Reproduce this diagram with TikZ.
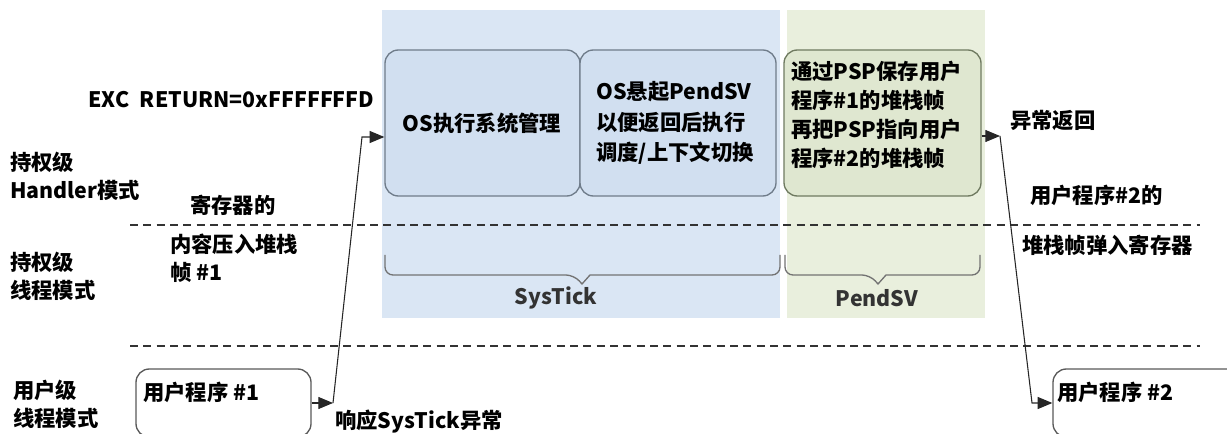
\documentclass[tikz,border=0pt]{standalone}
\usepackage{fontspec}
\setmainfont{Noto Sans CJK SC}
\usetikzlibrary{arrows.meta,fit}
\definecolor{bluebg}{HTML}{DAE6F4}
\definecolor{bluebox}{HTML}{D1DFF0}
\definecolor{greenbg}{HTML}{E9EFDD}
\definecolor{greenbox}{HTML}{DFE7D0}
\definecolor{boxline}{HTML}{6F7C8A}
\definecolor{greenline}{HTML}{6F7A60}
\begin{document}
\begin{tikzpicture}[x=0.75pt,y=-0.75pt,
  every node/.style={font=\fontsize{16}{21}\selectfont\bfseries, inner sep=0pt},
  stagebox/.style={draw=boxline, line width=1pt, rounded corners=10pt, fill=bluebox},
  pspbox/.style={draw=greenline, line width=1pt, rounded corners=10pt, fill=greenbox},
  userbox/.style={draw=black!65, line width=1pt, rounded corners=10pt, fill=white},
  sep/.style={dashed, dash pattern=on 6pt off 4pt, line width=0.8pt, black!80},
  arr/.style={-{Triangle[length=11pt,width=9pt]}, line width=0.8pt, black!85},
  bracestyle/.style={draw=black!55, line width=1pt, rounded corners=6pt}]
\useasboundingbox (0,0) rectangle (1227,434);
\clip (0,0) rectangle (1227,434);
% backgrounds
\fill[bluebg] (382,10) rectangle (780,318);
\fill[greenbg] (787,10) rectangle (985,318);
% dashed separators
\draw[sep] (130,225) -- (1200,225);
\draw[sep] (130,346) -- (1200,346);
% boxes
\node[stagebox, fit={(385,50) (580,196)}] (os1) {};
\node[stagebox, fit={(580,50) (776,196)}] (os2) {};
\node[pspbox, fit={(784,50) (981,196)}] (psp) {};
\node[userbox, fit={(136,369) (311,437)}] (user1) {};
\node[userbox, fit={(1053,369) (1240,437)}] (user2) {};
% box texts
\node (os1t) at (482,123) {OS执行系统管理};
\node[anchor=west, align=left, font=\fontsize{16}{23}\selectfont\bfseries] (os2t) at (596,123) {OS悬起PendSV\\以便返回后执行\\调度/上下文切换};
\node[anchor=west, align=left, font=\fontsize{16}{21.75}\selectfont\bfseries] (pspt) at (791,115) {通过PSP保存用户\\程序\#1的堆栈帧\\再把PSP指向用户\\程序\#2的堆栈帧};
\node[anchor=west] (u1t) at (143,392) {用户程序 \#1};
\node[anchor=west] (u2t) at (1057,392) {用户程序 \#2};
% left labels
\node[anchor=west, align=left] (lv1) at (10,176) {持权级\\Handler模式};
\node[anchor=west, align=left] (lv2) at (10,276) {持权级\\线程模式};
\node[anchor=west, align=left] (lv3) at (13,404) {用户级\\线程模式};
% other labels
\node[anchor=west] (exc) at (88,100) {EXC\enspace RETURN=0xFFFFFFFD};
\node[anchor=west] (reg1) at (190,205) {寄存器的};
\node[anchor=west, align=left] (reg2) at (170,258) {内容压入堆栈\\帧 \#1};
\node[anchor=west] (resp) at (335,422) {响应SysTick异常};
\node[anchor=west] (ret) at (1010,120) {异常返回};
\node[anchor=west] (pop1) at (1030,195) {用户程序\#2的};
\node[anchor=west] (pop2) at (1022,245) {堆栈帧弹入寄存器};
% braces
\draw[bracestyle] (385,255) -- (385,275) -- (574,275) [sharp corners] -- (582,284) -- (590,275) [rounded corners=6pt] -- (780,275) -- (780,255);
\draw[bracestyle] (785,255) -- (785,275) -- (870,275) [sharp corners] -- (878,284) -- (886,275) [rounded corners=6pt] -- (980,275) -- (980,255);
\node[text=black!80] (systick) at (556,298) {SysTick};
\node[text=black!80] (pendsv) at (877,298) {PendSV};
% connectors
\coordinate (c0) at (333,403);
\coordinate (c1) at (362,137);
\coordinate (c2) at (1000,136);
\coordinate (c3) at (1032,403);
\draw[arr] (user1.east) -- (c0);
\draw[arr] (c0) -- (c1) -- (c1 -| os1.west);
\draw[arr] (psp.east |- c2) -- (c2);
\draw[arr] (c2) -- (c3) -- (user2.west);
\end{tikzpicture}
\end{document}
